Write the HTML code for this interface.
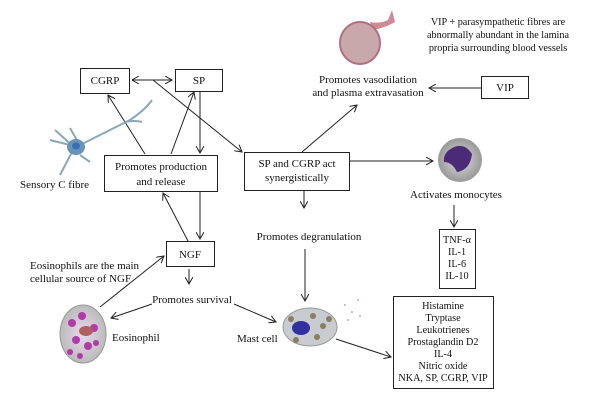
<!DOCTYPE html>
<html><head><style>
body{margin:0;background:#fff}
svg{display:block}
text{font-family:"Liberation Serif",serif;font-size:11px;fill:#111}
.s{font-size:10.2px}
</style></head><body>
<svg width="600" height="409" viewBox="0 0 600 409">
<defs>
<marker id="a" markerWidth="8" markerHeight="8" refX="7" refY="4" orient="auto" markerUnits="userSpaceOnUse"><path d="M0,0 L7,4 L0,8" fill="none" stroke="#222" stroke-width="1"/></marker>
<marker id="s" markerWidth="8" markerHeight="8" refX="0" refY="4" orient="auto" markerUnits="userSpaceOnUse"><path d="M7,0 L0,4 L7,8" fill="none" stroke="#222" stroke-width="1"/></marker>
<radialGradient id="eo" cx="50%" cy="50%" r="50%"><stop offset="0" stop-color="#e8d8ee"/><stop offset="1" stop-color="#bbb"/></radialGradient>
<radialGradient id="mo" cx="50%" cy="50%" r="50%"><stop offset="0" stop-color="#ddd"/><stop offset="1" stop-color="#999"/></radialGradient>
</defs>
<g fill="none" stroke="#222" stroke-width="1">
<rect x="80.5" y="68.5" width="49" height="25"/>
<rect x="175.5" y="69.5" width="47" height="22"/>
<rect x="104.5" y="155.5" width="113" height="36"/>
<rect x="244.5" y="152.5" width="105" height="38"/>
<rect x="166.5" y="241.5" width="48" height="25"/>
<rect x="481.5" y="76.5" width="47" height="22"/>
<rect x="439.5" y="229.5" width="36" height="59"/>
<rect x="393.5" y="296.5" width="100" height="92"/>
</g>
<g fill="none" stroke="#222" stroke-width="1">
<line x1="132" y1="80" x2="172" y2="80" marker-start="url(#s)" marker-end="url(#a)"/>
<line x1="153" y1="80" x2="242" y2="152" marker-end="url(#a)"/>
<line x1="145" y1="154" x2="108" y2="95" marker-end="url(#a)"/>
<line x1="171" y1="154" x2="194" y2="92" marker-end="url(#a)"/>
<line x1="200" y1="92" x2="200" y2="153" marker-end="url(#a)"/>
<line x1="200" y1="192" x2="200" y2="239" marker-end="url(#a)"/>
<line x1="188" y1="241" x2="163" y2="193" marker-end="url(#a)"/>
<line x1="189" y1="269" x2="189" y2="284" marker-end="url(#a)"/>
<line x1="100" y1="307" x2="164" y2="256" marker-end="url(#a)"/>
<line x1="152" y1="304" x2="111" y2="318" marker-end="url(#a)"/>
<line x1="234" y1="304" x2="276" y2="322" marker-end="url(#a)"/>
<line x1="304" y1="191" x2="304" y2="208" marker-end="url(#a)"/>
<line x1="305" y1="249" x2="305" y2="301" marker-end="url(#a)"/>
<line x1="336" y1="339" x2="391" y2="357" marker-end="url(#a)"/>
<line x1="302" y1="152" x2="357" y2="105" marker-end="url(#a)"/>
<line x1="481" y1="88" x2="429" y2="88" marker-end="url(#a)"/>
<line x1="350" y1="161" x2="433" y2="161" marker-end="url(#a)"/>
<line x1="454" y1="205" x2="454" y2="227" marker-end="url(#a)"/>
</g>
<text x="105" y="84" text-anchor="middle">CGRP</text>
<text x="199" y="84" text-anchor="middle">SP</text>
<text x="161" y="170" text-anchor="middle">Promotes production</text>
<text x="161" y="185" text-anchor="middle">and release</text>
<text x="297" y="167" text-anchor="middle">SP and CGRP act</text>
<text x="297" y="181" text-anchor="middle">synergistically</text>
<text x="190" y="258" text-anchor="middle">NGF</text>
<text x="505" y="91" text-anchor="middle">VIP</text>
<text x="20" y="188">Sensory C fibre</text>
<text x="30" y="269">Eosinophils are the main</text>
<text x="30" y="282">cellular source of NGF</text>
<text x="192" y="303" text-anchor="middle">Promotes survival</text>
<text x="112" y="341">Eosinophil</text>
<text x="237" y="342">Mast cell</text>
<text x="309" y="240" text-anchor="middle">Promotes degranulation</text>
<text x="456" y="198" text-anchor="middle">Activates monocytes</text>
<text x="368" y="83" text-anchor="middle">Promotes vasodilation</text>
<text x="368" y="96" text-anchor="middle">and plasma extravasation</text>
<g class="s" text-anchor="middle">
<text class="s" x="498" y="25">VIP + parasympathetic fibres are</text>
<text class="s" x="498" y="38">abnormally abundant in the lamina</text>
<text class="s" x="498" y="51">propria surrounding blood vessels</text>
</g>
<g text-anchor="middle">
<text class="s" x="457" y="243">TNF-α</text><text class="s" x="457" y="255">IL-1</text><text class="s" x="457" y="267">IL-6</text><text class="s" x="457" y="279">IL-10</text>
<text class="s" x="443" y="309">Histamine</text><text class="s" x="443" y="321">Tryptase</text><text class="s" x="443" y="333">Leukotrienes</text><text class="s" x="443" y="345">Prostaglandin D2</text><text class="s" x="443" y="357">IL-4</text><text class="s" x="443" y="369">Nitric oxide</text><text class="s" x="443" y="381">NKA, SP, CGRP, VIP</text>
</g>
<!-- neuron -->
<g stroke="#8aa8b8" stroke-width="2" fill="none">
<path d="M78 146 Q110 130 130 120 Q145 110 152 100"/>
<path d="M125 122 Q135 120 142 122"/>
<path d="M75 148 L55 130 M72 152 L60 175 M80 155 L90 162 M70 145 L50 140 M78 142 L70 128"/>
</g>
<ellipse cx="76" cy="147" rx="9" ry="8" fill="#6a93b8"/>
<ellipse cx="76" cy="146" rx="4" ry="3.5" fill="#3d6fb0"/>
<!-- vessel -->
<path d="M372 30 Q385 28 395 22 L392 10 L388 20 Q380 24 370 22 Z" fill="#d08a94"/>
<ellipse cx="360" cy="43" rx="20" ry="21" fill="#c9a8ac" stroke="#b07080" stroke-width="2"/>
<!-- monocyte -->
<circle cx="460" cy="160" r="22" fill="url(#mo)"/>
<path d="M449 150 Q463 140 472 154 Q470 170 457 172 Q452 162 444 162 Q443 155 449 150Z" fill="#4b2a78"/>
<!-- eosinophil -->
<ellipse cx="83" cy="334" rx="23" ry="29" fill="url(#eo)" stroke="#999"/>
<g fill="#b03aa8"><circle cx="72" cy="323" r="4"/><circle cx="82" cy="316" r="4"/><circle cx="94" cy="328" r="4"/><circle cx="76" cy="340" r="4"/><circle cx="88" cy="346" r="4"/><circle cx="70" cy="352" r="3"/><circle cx="96" cy="343" r="3"/><circle cx="80" cy="356" r="3"/></g>
<ellipse cx="86" cy="331" rx="7" ry="5" fill="#b06060"/>
<!-- mast cell -->
<ellipse cx="310" cy="327" rx="27" ry="19" fill="#c8ccd0" stroke="#999"/>
<ellipse cx="301" cy="328" rx="9" ry="7" fill="#3030a0"/>
<g fill="#8a7d62"><circle cx="291" cy="319" r="3"/><circle cx="313" cy="316" r="3"/><circle cx="323" cy="326" r="3"/><circle cx="317" cy="337" r="3"/><circle cx="296" cy="340" r="3"/><circle cx="329" cy="319" r="3"/></g>
<g fill="#c9a0c8"><circle cx="345" cy="305" r="1"/><circle cx="352" cy="312" r="1"/><circle cx="358" cy="300" r="1"/><circle cx="348" cy="320" r="1"/><circle cx="360" cy="316" r="1"/></g>
</svg>
</body></html>
